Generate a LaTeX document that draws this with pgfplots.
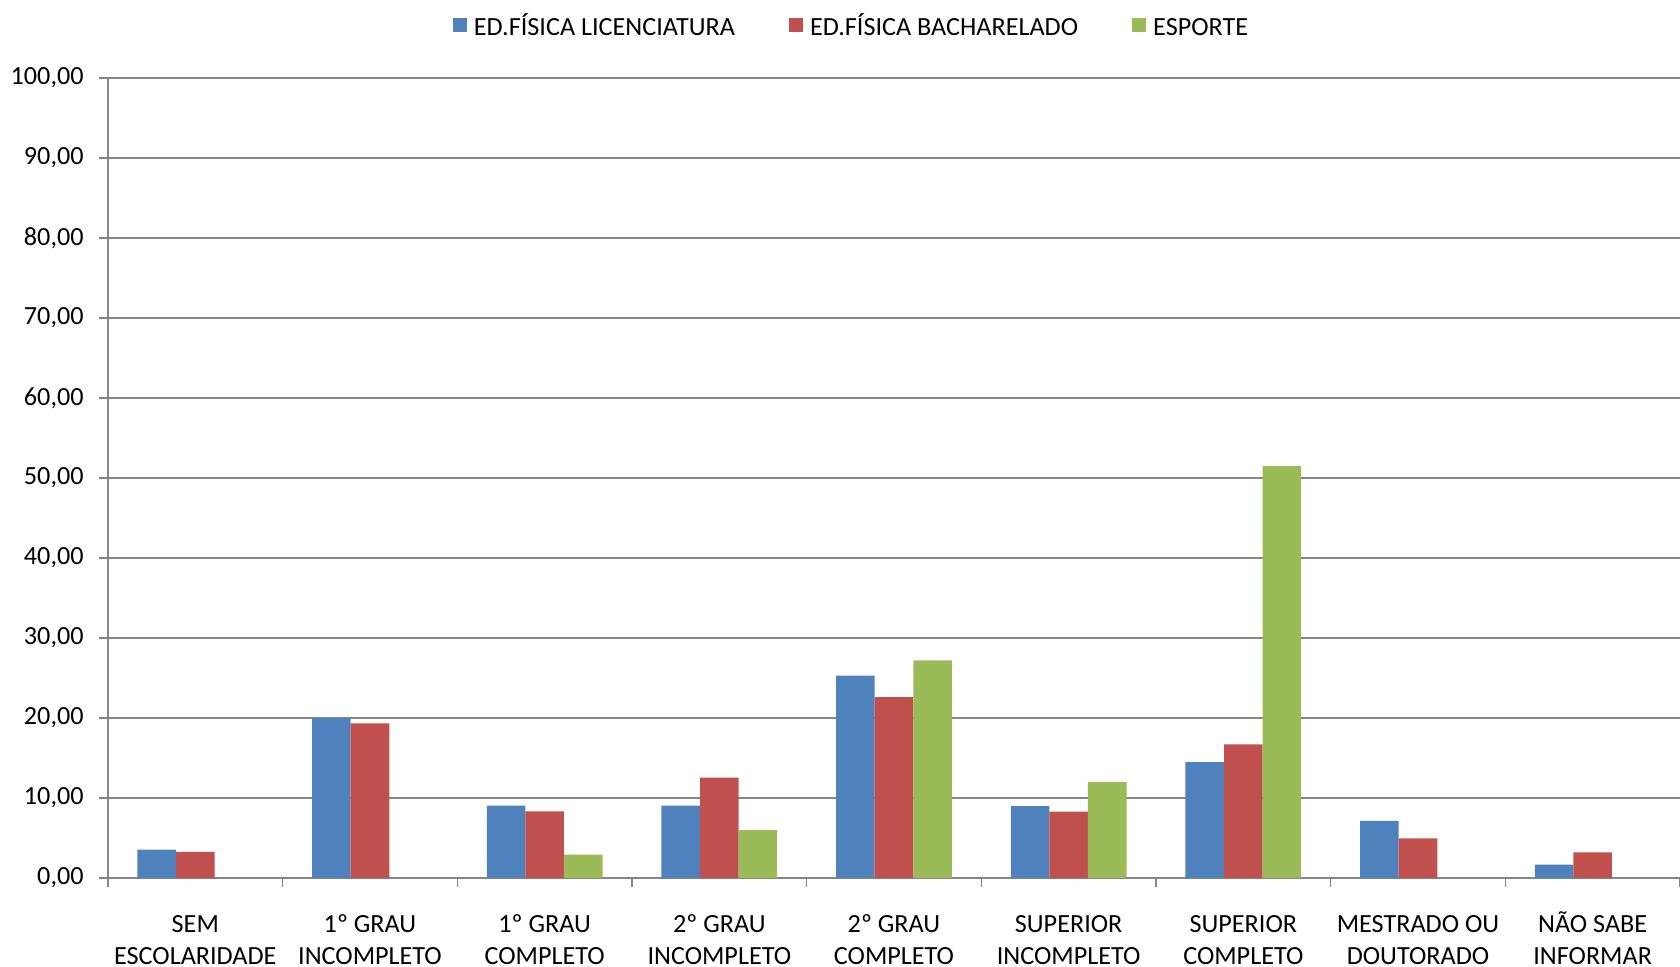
\documentclass[border=0pt]{standalone}
\usepackage{fontspec}
\setmainfont{Carlito}
\usepackage{pgfplots}
\pgfplotsset{compat=1.18}

\definecolor{cblue}{HTML}{4F81BD}
\definecolor{cred}{HTML}{C0504D}
\definecolor{cgreen}{HTML}{9BBB59}
\definecolor{gridgray}{HTML}{868686}

\begin{document}
\begin{tikzpicture}[font=\fontsize{7.45}{9.1}\selectfont]
\begin{axis}[
  at={(0,0)}, anchor=south west,
  scale only axis, width=15.72cm, height=8.0cm,
  xmin=-0.5, xmax=8.5, ymin=0, ymax=100,
  ybar=0pt, bar width=0.386cm,
  axis x line*=bottom, axis y line*=left,
  axis line style={draw=gridgray, line width=0.5pt},
  ymajorgrids, grid style={draw=gridgray, line width=0.55pt},
  tick align=outside,
  major tick length=0.09cm, minor tick length=0.09cm,
  ytick={0,10,...,100},
  y tick style={draw=gridgray, line width=0.4pt},
  yticklabel style={xshift=-0.03cm, /pgf/number format/.cd, fixed, fixed zerofill, precision=2, use comma, assume math mode=true},
  xtick={0,...,8},
  major x tick style={draw=none},
  minor xtick={-0.5,0.5,...,8.5},
  minor x tick style={draw=gridgray, line width=0.4pt},
  xticklabels={{SEM\\ESCOLARIDADE},{1º GRAU\\INCOMPLETO},{1º GRAU\\COMPLETO},{2º GRAU\\INCOMPLETO},{2º GRAU\\COMPLETO},{SUPERIOR\\INCOMPLETO},{SUPERIOR\\COMPLETO},{MESTRADO OU\\DOUTORADO},{NÃO SABE\\INFORMAR}},
  xticklabel style={align=center, anchor=base, yshift=-0.77cm},
  legend style={at={(0.4746,1.066)}, anchor=center, legend columns=3, draw=none, fill=none,
    font=\fontsize{7.45}{9.1}\selectfont,
    nodes={text height=1.5ex, text depth=0.25ex},
    /tikz/every even column/.append style={column sep=0.47cm}},
  legend image code/.code={\draw[#1,draw=none] (0cm,-0.07cm) rectangle (0.14cm,0.07cm);},
]
\addplot[fill=cblue, draw=none] coordinates {(0,3.56)(1,20.0)(2,9.04)(3,9.04)(4,25.3)(5,9.0)(6,14.5)(7,7.15)(8,1.67)};
\addplot[fill=cred, draw=none] coordinates {(0,3.26)(1,19.33)(2,8.33)(3,12.55)(4,22.6)(5,8.3)(6,16.7)(7,4.97)(8,3.21)};
\addplot[fill=cgreen, draw=none] coordinates {(2,2.93)(3,5.98)(4,27.2)(5,12.0)(6,51.5)};
\legend{ED.FÍSICA LICENCIATURA, ED.FÍSICA BACHARELADO, ESPORTE}
\end{axis}
\pgfresetboundingbox
\path (-1.08,-0.88) rectangle (15.72,8.78);
\end{tikzpicture}
\end{document}
